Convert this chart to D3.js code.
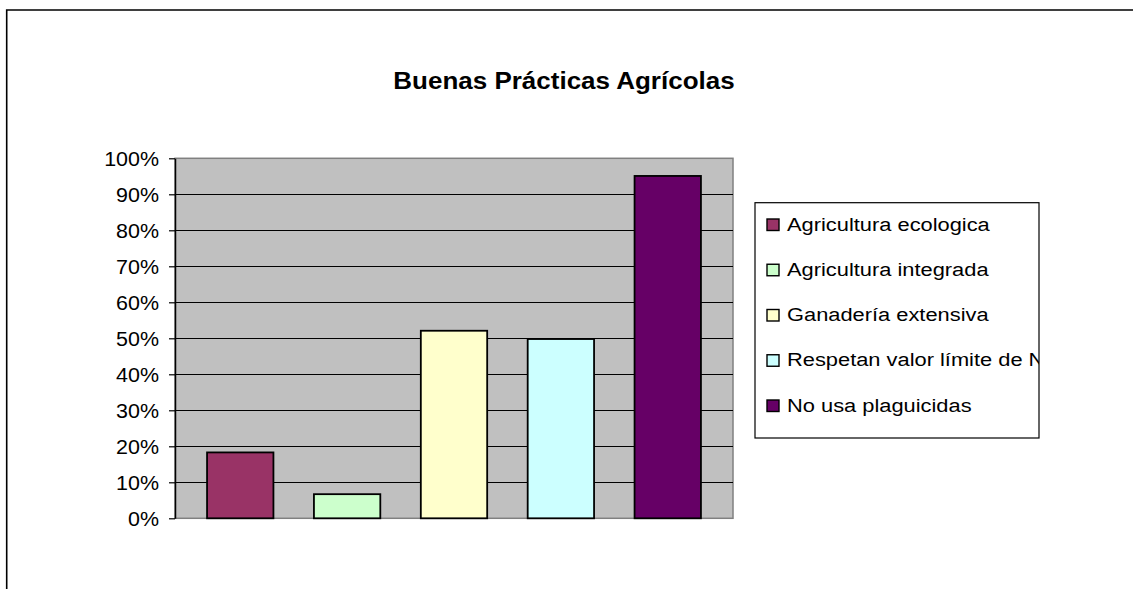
<!doctype html>
<html>
<head>
<meta charset="utf-8">
<style>
  body { margin: 0; background: #fff; }
  svg text { font-family: "Liberation Sans", Arial, sans-serif; fill: #000; }
</style>
<script src="https://d3js.org/d3.v7.min.js"></script>
</head>
<body>
<svg width="1133" height="589"></svg>
<script>
// data
var categories = ["Agricultura ecologica", "Agricultura integrada", "Ganadería extensiva",
                  "Respetan valor límite de N", "No usa plaguicidas"];
var values = [0.183, 0.067, 0.521, 0.498, 0.951];
var colors = ["#993366", "#CCFFCC", "#FFFFCC", "#CCFFFF", "#660066"];
var tickValues = [0, 0.1, 0.2, 0.3, 0.4, 0.5, 0.6, 0.7, 0.8, 0.9, 1];
var title = "Buenas Prácticas Agrícolas";

var svg = d3.select("svg");

// outer frame (only top and left visible)
svg.append("path")
   .attr("d", "M6.7,589 V10 H1133")
   .attr("fill", "none")
   .attr("stroke", "#000")
   .attr("stroke-width", 1.6);

// the source picture is a little wider than tall, so text is stretched
svg.append("text")
   .attr("transform", "translate(564,89) scale(1.13,1)")
   .attr("text-anchor", "middle")
   .attr("font-size", "23px")
   .attr("font-weight", "bold")
   .text(title);

var plot = { left: 175, right: 733, top: 158.3, bottom: 518.3 };

var x = d3.scaleBand()
    .domain(categories)
    .range([plot.left, plot.right])
    .paddingInner(0.379)
    .paddingOuter(0.3);
var y = d3.scaleLinear().domain([0, 1]).range([plot.bottom, plot.top]);

// plot area
svg.append("rect")
   .attr("x", plot.left).attr("y", plot.top)
   .attr("width", plot.right - plot.left)
   .attr("height", plot.bottom - plot.top)
   .attr("fill", "#C0C0C0")
   .attr("stroke", "#808080")
   .attr("stroke-width", 1.5);

// gridlines
svg.append("g")
   .selectAll("line")
   .data(tickValues.filter(function(d) { return d > 0 && d < 1; }))
   .enter().append("line")
   .attr("x1", plot.left).attr("x2", plot.right)
   .attr("y1", function(d) { return Math.round(y(d)) + 0.5; })
   .attr("y2", function(d) { return Math.round(y(d)) + 0.5; })
   .attr("stroke", "#000")
   .attr("stroke-width", 1);

// bars
svg.append("g")
   .selectAll("rect")
   .data(categories)
   .enter().append("rect")
   .attr("x", function(d) { return x(d); })
   .attr("y", function(d, i) { return y(values[i]); })
   .attr("width", x.bandwidth())
   .attr("height", function(d, i) { return y(0) - y(values[i]); })
   .attr("fill", function(d, i) { return colors[i]; })
   .attr("stroke", "#000")
   .attr("stroke-width", 1.8);

// y axis
var yAxis = svg.append("g")
   .attr("transform", "translate(" + plot.left + ",0)")
   .call(d3.axisLeft(y).tickValues(tickValues).tickFormat(d3.format(".0%"))
        .tickSize(6).tickSizeOuter(0));
yAxis.select(".domain").attr("stroke", "#000").attr("stroke-width", 1.5);
yAxis.selectAll(".tick line").attr("stroke", "#000").attr("stroke-width", 1.2);
yAxis.selectAll(".tick text")
   .attr("font-size", "19.5px")
   .attr("font-family", "Liberation Sans, Arial, sans-serif")
   .attr("x", -16 / 1.1)
   .attr("dy", "0.35em")
   .attr("transform", "scale(1.1,1)");

// legend
var lg = { x: 755, y: 202.7, w: 284, h: 235.3 };
svg.append("clipPath").attr("id", "lgclip")
   .append("rect").attr("x", lg.x).attr("y", lg.y).attr("width", lg.w).attr("height", lg.h);

svg.append("rect")
   .attr("x", lg.x).attr("y", lg.y)
   .attr("width", lg.w).attr("height", lg.h)
   .attr("fill", "#fff")
   .attr("stroke", "#000")
   .attr("stroke-width", 1.2);

var items = svg.append("g").attr("clip-path", "url(#lgclip)")
   .selectAll("g")
   .data(categories)
   .enter().append("g")
   .attr("transform", function(d, i) { return "translate(0," + (230.5 + i * 45.25) + ")"; });

items.append("rect")
   .attr("x", 767).attr("y", -11.5)
   .attr("width", 12).attr("height", 11.5)
   .attr("fill", function(d, i) { return colors[i]; })
   .attr("stroke", "#000")
   .attr("stroke-width", 1.4);

items.append("text")
   .attr("transform", "translate(787,0) scale(1.15,1)")
   .attr("font-size", "19px")
   .text(function(d) { return d; });
</script>
</body>
</html>
